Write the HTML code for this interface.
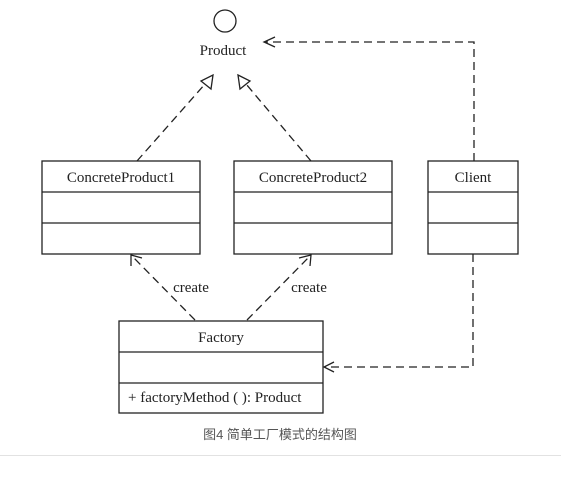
<!DOCTYPE html>
<html><head><meta charset="utf-8"><style>
html,body{margin:0;padding:0;background:#fff;}
svg{display:block;}
</style></head><body>
<svg width="561" height="480" viewBox="0 0 561 480" xmlns="http://www.w3.org/2000/svg">
<g fill="none" stroke="#222" stroke-width="1.3">
<circle cx="225" cy="21" r="11"/>
<!-- boxes -->
<rect x="42" y="161" width="158" height="93"/>
<line x1="42" y1="192" x2="200" y2="192"/><line x1="42" y1="223" x2="200" y2="223"/>
<rect x="234" y="161" width="158" height="93"/>
<line x1="234" y1="192" x2="392" y2="192"/><line x1="234" y1="223" x2="392" y2="223"/>
<rect x="428" y="161" width="90" height="93"/>
<line x1="428" y1="192" x2="518" y2="192"/><line x1="428" y1="223" x2="518" y2="223"/>
<rect x="119" y="321" width="204" height="92"/>
<line x1="119" y1="352" x2="323" y2="352"/><line x1="119" y1="383" x2="323" y2="383"/>
<!-- dashed -->
<g stroke-dasharray="8,5">
<line x1="137" y1="161" x2="205" y2="84"/>
<line x1="311" y1="161" x2="246" y2="84"/>
<polyline points="474,161 474,42 265,42"/>
<line x1="195" y1="320" x2="132" y2="256"/>
<line x1="247" y1="320" x2="310" y2="256"/>
<polyline points="473,254 473,367 325,367"/>
</g>
<!-- hollow triangles -->
<polygon points="213,75 211,89 201,81" fill="#fff"/>
<polygon points="238,75 250,81 240,89" fill="#fff"/>
<!-- open arrows -->
<polyline points="275,37 264,42 275,47"/>
<polyline points="131,266 131,255 142,258"/>
<polyline points="299,258 311,255 310,266"/>
<polyline points="334,362 324,367 334,372"/>
</g>
<g font-family="'Liberation Serif',serif" font-size="15" fill="#222" text-anchor="middle">
<text x="223" y="55">Product</text>
<text x="121" y="182">ConcreteProduct1</text>
<text x="313" y="182">ConcreteProduct2</text>
<text x="473" y="182">Client</text>
<text x="221" y="342">Factory</text>
<text x="191" y="292">create</text>
<text x="309" y="292">create</text>
<text x="128" y="402" text-anchor="start">+ factoryMethod ( ): Product</text>
</g>
<text x="280" y="439" text-anchor="middle" font-family="'Liberation Sans','Noto Sans CJK SC',sans-serif" font-size="13" fill="#555">图4 简单工厂模式的结构图</text>
<line x1="0" y1="455.5" x2="561" y2="455.5" stroke="#e2e2e2" stroke-width="1"/>
</svg>
</body></html>
